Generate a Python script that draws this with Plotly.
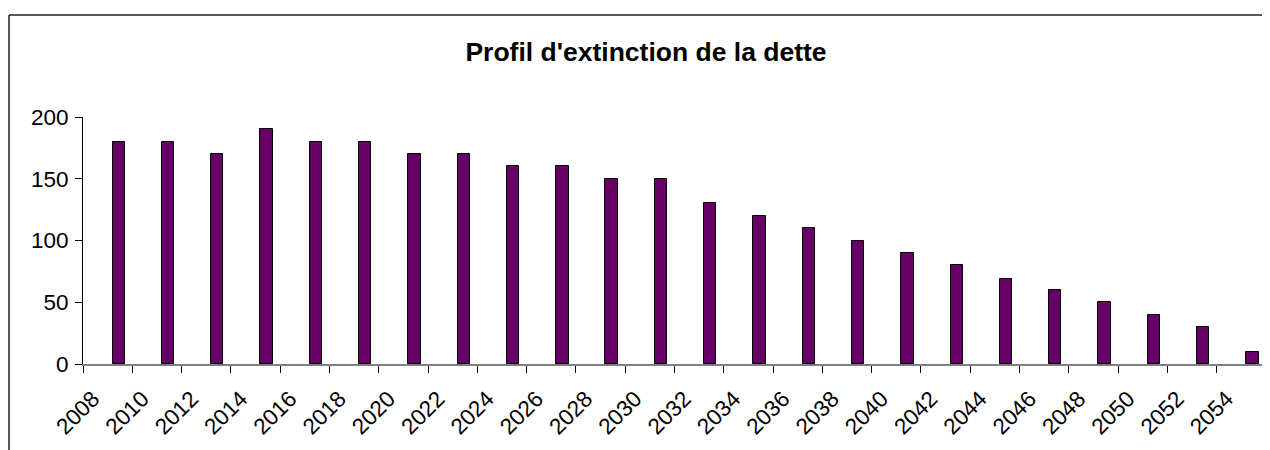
import plotly.graph_objs as go

# data
years = [2008, 2010, 2012, 2014, 2016, 2018, 2020, 2022, 2024, 2026, 2028, 2030,
         2032, 2034, 2036, 2038, 2040, 2042, 2044, 2046, 2048, 2050, 2052, 2054]
debt = [180, 180, 170, 190, 180, 180, 170, 170, 160, 160, 150, 150,
        130, 120, 110, 100, 90, 80, 69, 60, 50, 40, 30, 10]
tick_labels = [str(y) for y in years]

TITLE = "Profil d'extinction de la dette"
BAR_COLOR = '#660066'
# the page body keeps its 8px default margin, so the figure is drawn 8px in
W, H = 1262, 442
MARGIN = dict(l=75, r=4, t=109, b=86)


def px_to_paper_x(px):
    return (px - MARGIN['l']) / (W - MARGIN['l'] - MARGIN['r'])


def px_to_paper_y(py):
    return (H - MARGIN['b'] - py) / (H - MARGIN['t'] - MARGIN['b'])


trace = go.Bar(x=years, y=debt, offset=1.2, width=0.5,
               marker=dict(color=BAR_COLOR, line=dict(color='black', width=1)),
               showlegend=False)

# outer chart frame (left and top edges, the rest is cropped in the reference)
frame = [
    dict(type='line', xref='paper', yref='paper',
         x0=px_to_paper_x(1), x1=px_to_paper_x(1), y0=px_to_paper_y(7), y1=px_to_paper_y(H),
         line=dict(color='#222222', width=1.5)),
    dict(type='line', xref='paper', yref='paper',
         x0=px_to_paper_x(1), x1=px_to_paper_x(W), y0=px_to_paper_y(7), y1=px_to_paper_y(7),
         line=dict(color='#222222', width=1.5)),
]

layout = go.Layout(
    width=W, height=H, margin=MARGIN,
    paper_bgcolor='white', plot_bgcolor='white',
    font=dict(family='Liberation Sans, Arial, sans-serif', color='black', size=22.5),
    title=dict(text='<b>' + TITLE + '</b>', font=dict(size=26.5),
               xref='container', x=638 / W, xanchor='center',
               yref='container', y=1 - 44 / H, yanchor='middle'),
    xaxis=dict(range=[years[0], years[-1] + 2],
               tickmode='array', tickvals=years + [years[-1] + 2], ticktext=tick_labels + [''],
               tickangle=-45, ticks='outside', ticklen=7, tickcolor='black',
               ticklabelshift=10, ticklabelstandoff=4,
               showline=True, linecolor='#808080', linewidth=1.5,
               showgrid=False, zeroline=False),
    yaxis=dict(range=[0, 200], tickmode='array', tickvals=[0, 50, 100, 150, 200],
               ticks='outside', ticklen=7, tickcolor='black', ticklabelstandoff=2,
               showline=True, linecolor='black', linewidth=1,
               showgrid=False, zeroline=False),
    shapes=frame,
    bargap=0,
)

fig = go.Figure(data=[trace], layout=layout)
fig.write_html("out.html", config=dict(displayModeBar=False),
               post_script="document.body.style.overflow = 'hidden';")
